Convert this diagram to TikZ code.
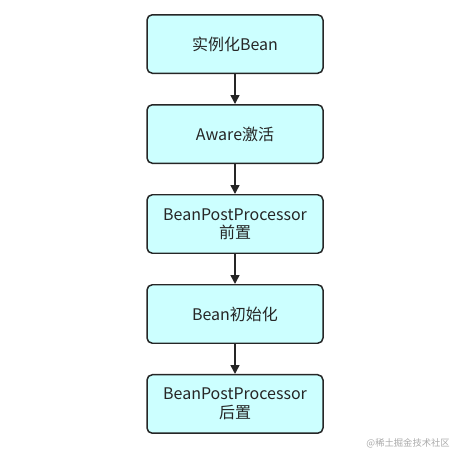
\documentclass[tikz,border=0pt]{standalone}
\usepackage{fontspec}
\setmainfont{Noto Sans CJK SC}
\usepackage{xcolor}
\definecolor{bncyan}{RGB}{204,255,255}
\definecolor{bndark}{RGB}{38,38,38}
\definecolor{bngrey}{RGB}{170,170,170}
\usetikzlibrary{arrows.meta,positioning}
\tikzset{
  phase/.style={draw=bndark, line width=0.85pt, rounded corners=3pt, fill=bncyan,
                font=\fontsize{9.1}{11.5}\selectfont, text=bndark, align=center,
                minimum width=3.52cm, minimum height=1.17cm, inner sep=2pt},
  flow/.style={draw=bndark, line width=0.85pt, -{Triangle[length=5pt,width=5pt]}},
}

\begin{document}
\begin{tikzpicture}[node distance=0.6cm]
\useasboundingbox (0,0) rectangle (9.22,-9.08);
% Bean lifecycle steps
\node[phase] (inst) at (4.70,-0.88) {实例化Bean};
\node[phase, below=of inst] (aware) {Aware激活};
\node[phase, below=of aware] (bppre) {BeanPostProcessor\\[-1pt]前置};
\node[phase, below=of bppre] (init) {Bean初始化};
\node[phase, below=of init] (bppost) {BeanPostProcessor\\[-1pt]后置};

\draw[flow] (inst) -- (aware);
\draw[flow] (aware) -- (bppre);
\draw[flow] (bppre) -- (init);
\draw[flow] (init) -- (bppost);

% watermark
\node[font=\fontsize{5.3}{6}\selectfont, text=bngrey, anchor=east] (mark) at (9.12,-8.86) {@稀土掘金技术社区};
\end{tikzpicture}
\end{document}
